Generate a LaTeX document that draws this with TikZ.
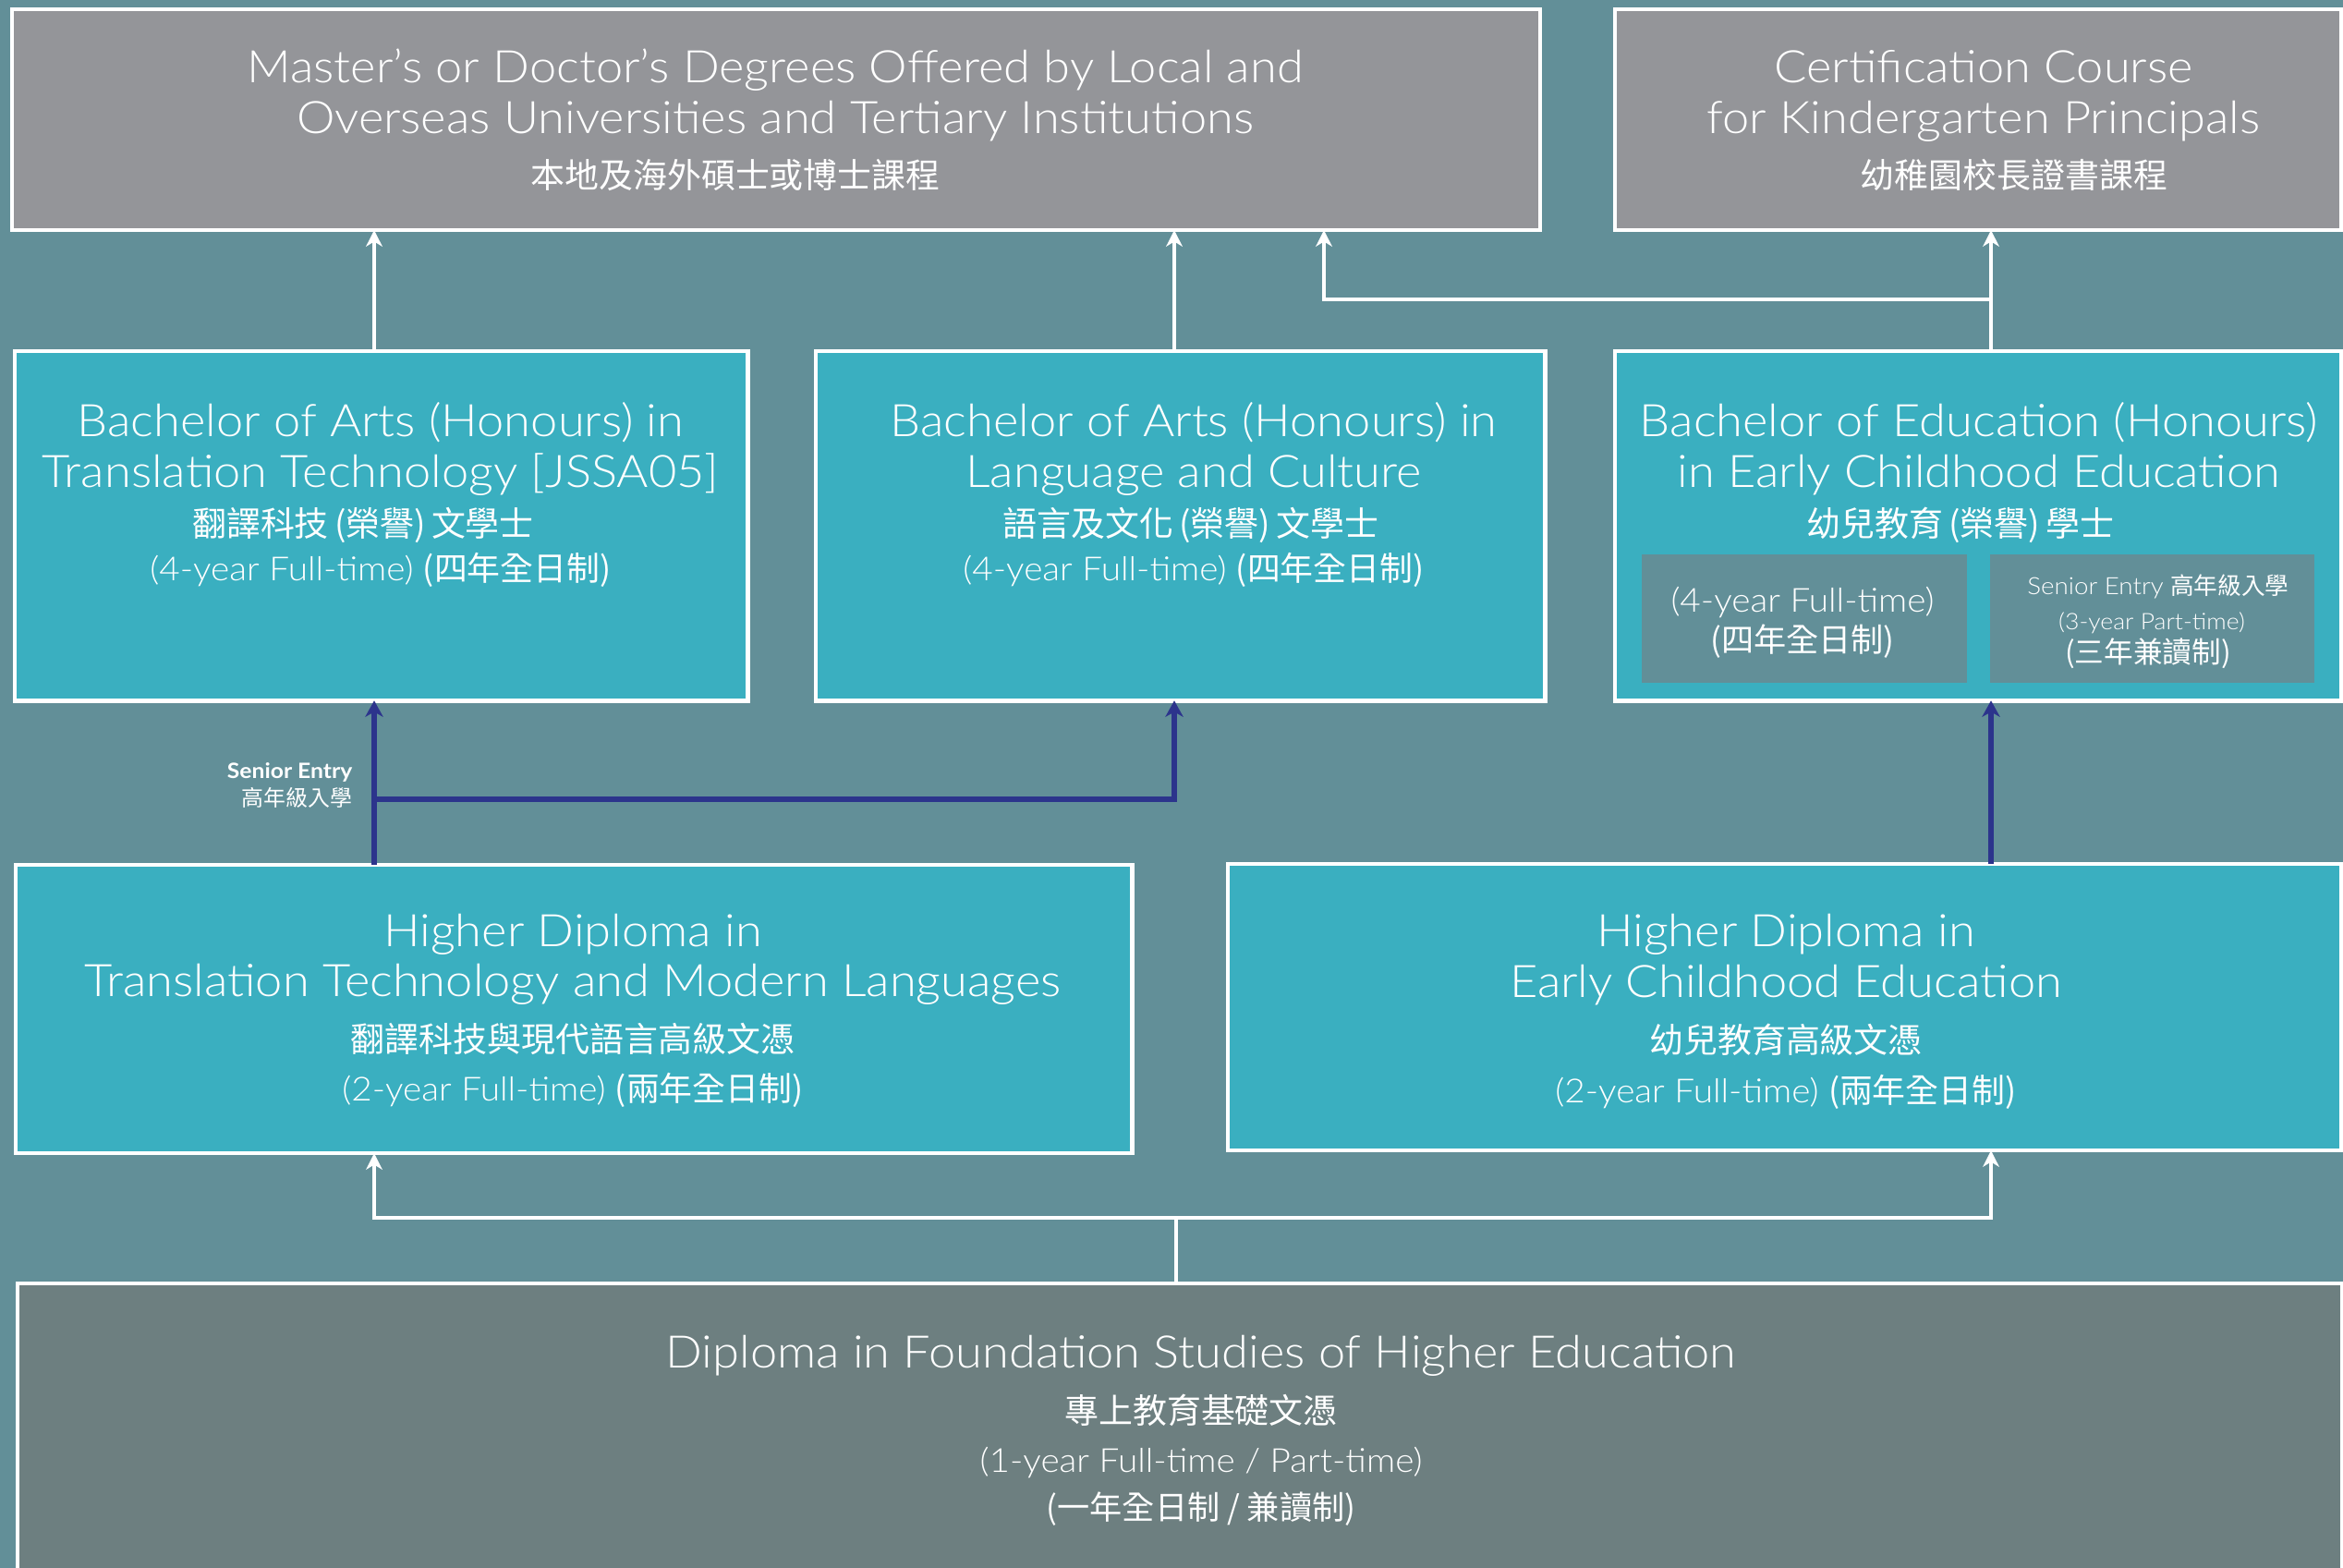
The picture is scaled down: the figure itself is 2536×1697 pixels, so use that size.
\documentclass[tikz,border=0pt]{standalone}
\usepackage{fontspec}
\setmainfont{Lato}[UprightFont=* Light, BoldFont=* Bold, FakeStretch=1.08]
\newfontfamily\zhfont{Noto Sans CJK TC}
\usetikzlibrary{arrows.meta,calc}

\definecolor{bgteal}{RGB}{98,143,152}
\definecolor{boxblue}{RGB}{58,175,192}
\definecolor{boxgrey}{RGB}{148,149,153}
\definecolor{footgrey}{RGB}{109,127,128}
\definecolor{entrynavy}{RGB}{44,52,140}

\tikzset{
    box/.style={draw=white, line width=1.3pt, inner sep=0pt, outer sep=0pt, anchor=north west},
    greybox/.style={box, fill=boxgrey},
    bluebox/.style={box, fill=boxblue},
    footbox/.style={box, fill=footgrey},
    subbox/.style={inner sep=0pt, outer sep=0pt, anchor=north west, fill=bgteal},
    title/.style={text=white, anchor=base, inner sep=0pt, font=\fontsize{13.8}{16}\selectfont},
    zh/.style={text=white, anchor=base, inner sep=0pt, font=\zhfont\fontsize{10.5}{12}\selectfont},
    sub/.style={text=white, anchor=base, inner sep=0pt, font=\fontsize{10.2}{12}\selectfont},
    path up/.style={draw=white, line width=1.3pt, -{Stealth[length=5pt, width=5pt, inset=1.5pt]}},
    entry up/.style={draw=entrynavy, line width=1.6pt, -{Stealth[length=5pt, width=5.5pt, inset=1.5pt]}}
}

\begin{document}
\begin{tikzpicture}[x=0.01cm, y=-0.01cm]
    \useasboundingbox (0,0) rectangle (2536,1697);
    \fill[bgteal] (0,0) rectangle (2536,1697);
    \clip (0,0) rectangle (2536,1697);

    % boxes
    \node[greybox, minimum width=16.53cm, minimum height=2.39cm] (masters) at (13,10) {};
    \node[greybox, minimum width=7.86cm, minimum height=2.39cm] (cert) at (1748,10) {};
    \node[bluebox, minimum width=7.93cm, minimum height=3.78cm] (bata) at (16,380) {};
    \node[bluebox, minimum width=7.89cm, minimum height=3.78cm] (balc) at (883,380) {};
    \node[bluebox, minimum width=7.86cm, minimum height=3.78cm] (bed) at (1748,380) {};
    \node[subbox, minimum width=3.52cm, minimum height=1.39cm] (bedft) at (1777,600) {};
    \node[subbox, minimum width=3.51cm, minimum height=1.39cm] (bedse) at (2154,600) {};
    \node[bluebox, minimum width=12.08cm, minimum height=3.12cm] (hdtt) at (17,936) {};
    \node[bluebox, minimum width=12.05cm, minimum height=3.10cm] (hdece) at (1329,935) {};
    \node[footbox, minimum width=25.15cm, minimum height=3.4cm] (dfs) at (19,1389) {};

    % texts
    \node[title] (masters1) at (839,90) {Master’s or Doctor’s Degrees Offered by Local and};
    \node[title] (masters2) at (839,145) {Overseas Universities and Tertiary Institutions};
    \node[zh] (masters3) at (796,203) {本地及海外碩士或博士課程};

    \node[title] (cert1) at (2147,90) {Certification Course};
    \node[title] (cert2) at (2147,145) {for Kindergarten Principals};
    \node[zh] (cert3) at (2180,203) {幼稚園校長證書課程};

    \node[title] (bata1) at (412,472) {Bachelor of Arts (Honours) in};
    \node[title] (bata2) at (412,527) {Translation Technology [JSSA05]};
    \node[zh] (bata3) at (393,580) {翻譯科技\,(榮譽)\,文學士};
    \node[sub] (bata4) at (412,628) {(4-year Full-time) {\zhfont (四年全日制)}};

    \node[title] (balc1) at (1292,472) {Bachelor of Arts (Honours) in};
    \node[title] (balc2) at (1292,527) {Language and Culture};
    \node[zh] (balc3) at (1289,580) {語言及文化\,(榮譽)\,文學士};
    \node[sub] (balc4) at (1292,628) {(4-year Full-time) {\zhfont (四年全日制)}};

    \node[title] (bed1) at (2142,472) {Bachelor of Education (Honours)};
    \node[title] (bed2) at (2142,527) {in Early Childhood Education};
    \node[zh] (bed3) at (2122,580) {幼兒教育\,(榮譽)\,學士};
    \node[sub] (bedft1) at (1951,662) {(4-year Full-time)};
    \node[zh, font=\zhfont\fontsize{10}{12}\selectfont] (bedft2) at (1951,705) {(四年全日制)};
    \node[sub, font=\fontsize{7.3}{9}\selectfont] (bedse1) at (2336,643) {Senior Entry {\zhfont 高年級入學}};
    \node[sub, font=\fontsize{7}{9}\selectfont] (bedse2) at (2329,681) {(3-year Part-time)};
    \node[zh, font=\zhfont\fontsize{9}{11}\selectfont] (bedse3) at (2325,717) {(三年兼讀制)};

    \node[title] (hdtt1) at (620,1024) {Higher Diploma in};
    \node[title] (hdtt2) at (620,1078) {Translation Technology and Modern Languages};
    \node[zh] (hdtt3) at (620,1138) {翻譯科技與現代語言高級文憑};
    \node[sub] (hdtt4) at (620,1191) {(2-year Full-time) {\zhfont (兩年全日制)}};

    \node[title] (hdece1) at (1933,1024) {Higher Diploma in};
    \node[title] (hdece2) at (1933,1079) {Early Childhood Education};
    \node[zh] (hdece3) at (1933,1139) {幼兒教育高級文憑};
    \node[sub] (hdece4) at (1933,1193) {(2-year Full-time) {\zhfont (兩年全日制)}};

    \node[title] (dfs1) at (1300,1480) {Diploma in Foundation Studies of Higher Education};
    \node[zh] (dfs2) at (1300,1540) {專上教育基礎文憑};
    \node[sub] (dfs3) at (1300,1593) {(1-year Full-time / Part-time)};
    \node[zh, font=\zhfont\fontsize{10}{12}\selectfont] (dfs4) at (1300,1644) {(一年全日制 / 兼讀制)};

    \node[text=white, anchor=base east, inner sep=0pt, font=\bfseries\fontsize{6.5}{7}\selectfont] (entry1) at (382,842) {Senior Entry};
    \node[text=white, anchor=base east, inner sep=0pt, font=\zhfont\fontsize{6.8}{7}\selectfont] (entry2) at (382,872) {高年級入學};

    % connectors
    \coordinate (xa) at (405,0);
    \coordinate (xb) at (1271,0);
    \coordinate (xc) at (2155,0);
    \coordinate (xd) at (1433,0);
    \coordinate (xe) at (1273,0);

    \draw[path up] (bata.north -| xa) -- (masters.south -| xa);
    \draw[path up] (balc.north -| xb) -- (masters.south -| xb);
    \draw[path up] (bed.north -| xc) -- (cert.south -| xc);
    \draw[path up] ($(bed.north -| xc)+(0,-56)$) -| (masters.south -| xd);

    \draw[entry up] (hdtt.north -| xa) -- (bata.south -| xa);
    \draw[entry up] ($(hdtt.north -| xa)+(0,-71)$) -| (balc.south -| xb);
    \draw[entry up] (hdece.north -| xc) -- (bed.south -| xc);

    \draw[path up] (dfs.north -| xe) -- ++(0,-71) -| (hdtt.south -| xa);
    \draw[path up] (dfs.north -| xe) -- ++(0,-71) -| (hdece.south -| xc);
\end{tikzpicture}
\end{document}
